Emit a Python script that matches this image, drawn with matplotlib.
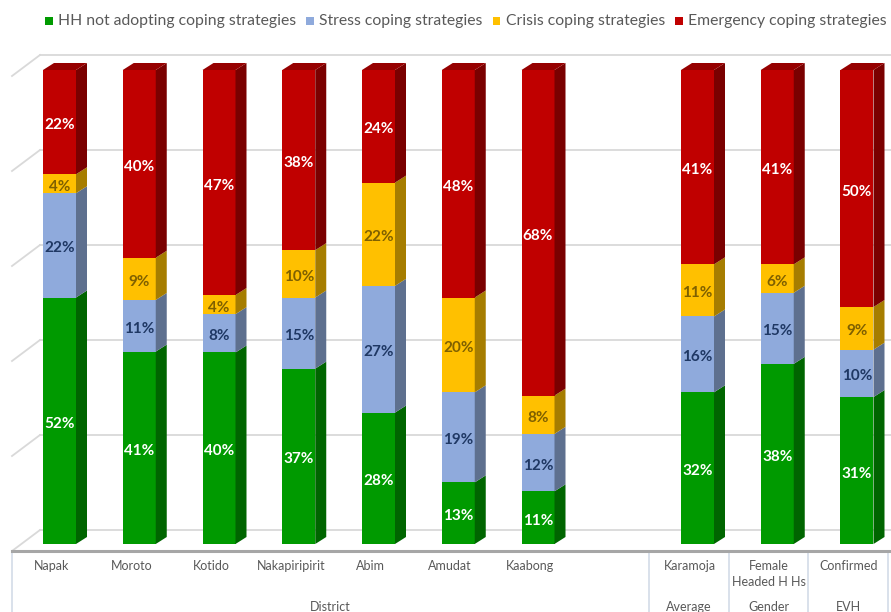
import matplotlib
matplotlib.use('Agg')
import matplotlib.pyplot as plt
from matplotlib.patches import Polygon, Rectangle
from matplotlib import font_manager

# ---------------- data ----------------
categories = ['Napak', 'Moroto', 'Kotido', 'Nakapiripirit', 'Abim', 'Amudat', 'Kaabong',
              'Karamoja', 'Female\nHeaded H Hs', 'Confirmed']
groups = ['District', 'Average', 'Gender', 'EVH']
series_names = ['HH not adopting coping strategies', 'Stress coping strategies',
                'Crisis coping strategies', 'Emergency coping strategies']
hh_not = [52, 41, 40, 37, 28, 13, 11, 32, 38, 31]
stress = [22, 11, 8, 15, 27, 19, 12, 16, 15, 10]
crisis = [4, 9, 4, 10, 22, 20, 8, 11, 6, 9]
emergency = [22, 40, 47, 38, 24, 48, 68, 41, 41, 50]
gridvals = [0, 20, 40, 60, 80, 100]

# ---------------- style ----------------
fam = {f.name for f in font_manager.fontManager.ttflist}
base = 'Lato' if 'Lato' in fam else 'DejaVu Sans'
plt.rcParams['font.family'] = [base, 'DejaVu Sans']

front = ['#009A00', '#8FAADC', '#FFC000', '#C00000']
side = ['#006500', '#5E708F', '#A67D00', '#7A0000']
top_col = '#960000'
lab_col = ['white', '#1F3864', '#7F6000', 'white']

W, H = 891, 612
fig = plt.figure(figsize=(W / 100, H / 100), dpi=100)
ax = fig.add_axes([0, 0, 1, 1])

# pixel <-> data mapping (layout)
X0, XS = 59.5, 79.75     # px of first bar centre, px per category
Y0, YS = 544.0, 4.74     # px of value 0 at bar front, px per percent
def dx(px): return (px - X0) / XS
def dy(py): return (Y0 - py) / YS
ax.set_xlim(dx(0), dx(W))
ax.set_ylim(dy(H), dy(0))
ax.axis('off')
PX, PY = 1 / XS, 1 / YS

# positions: one empty slot between districts and the rest
positions = list(range(7)) + [8, 9, 10]

# ---------------- walls / floor ----------------
grid_c = '#D9D9D9'
for v in gridvals:
    py = 530 - v * 4.75
    ax.plot([dx(12), dx(40)], [dy(py + 21), dy(py)], color=grid_c, lw=1.3, zorder=1)
    ax.plot([dx(40), dx(W)], [dy(py), dy(py)], color=grid_c, lw=1.3, zorder=1)
ax.plot([dx(12), dx(W)], [dy(551), dy(551)], color='#A6A6A6', lw=2.2, zorder=2)

# ---------------- bars ----------------
series = [hh_not, stress, crisis, emergency]
bw = 33 * PX
ddx, ddy = 11 * PX, 7 * PY
totals = [sum(s[i] for s in series) for i in range(len(categories))]
bottoms = [0.0] * len(categories)
for k, s in enumerate(series):
    heights = [s[i] / totals[i] * 100 for i in range(len(s))]
    ax.bar(positions, heights, bottom=bottoms, width=bw, color=front[k],
           edgecolor='none', zorder=3)
    for i, x in enumerate(positions):
        b, h = bottoms[i], heights[i]
        xr = x + bw / 2
        ax.add_patch(Polygon([(xr, b), (xr + ddx, b + ddy), (xr + ddx, b + h + ddy), (xr, b + h)],
                             closed=True, facecolor=side[k], edgecolor='none', zorder=3))
        if k == len(series) - 1:
            t = b + h
            ax.add_patch(Polygon([(x - bw / 2, t), (xr, t), (xr + ddx, t + ddy), (x - bw / 2 + ddx, t + ddy)],
                                 closed=True, facecolor=top_col, edgecolor='none', zorder=3))
        ax.text(x, b + h / 2 - 3 * PY, f'{s[i]}%', ha='center', va='center',
                color=lab_col[k], fontsize=11, fontweight='bold', zorder=5)
    bottoms = [bottoms[i] + heights[i] for i in range(len(s))]

# ---------------- category table ----------------
sep_c = '#D3DCE8'
for px in [12, 649, 729, 808, 888]:
    ax.plot([dx(px), dx(px)], [dy(551), dy(H)], color=sep_c, lw=1.2, zorder=1)
for i, x in enumerate(positions):
    ax.text(x - 0.1, dy(560), categories[i], ha='center', va='top', color='#595959',
            fontsize=9, linespacing=1.35)
group_px = [(12 + 649) / 2, (649 + 729) / 2, (729 + 808) / 2, (808 + 888) / 2]
for g, px in zip(groups, group_px):
    ax.text(dx(px), dy(601), g, ha='center', va='top', color='#595959', fontsize=9)

# ---------------- legend ----------------
fig.canvas.draw()
r = fig.canvas.get_renderer()
xpos = 45
for k, name in enumerate(series_names):
    fig.patches.append(Rectangle((xpos / W, 1 - 25 / H), 8 / W, 8 / H,
                                 transform=fig.transFigure, facecolor=front[k],
                                 edgecolor='none'))
    t = fig.text((xpos + 13) / W, 1 - 20.5 / H, name, ha='left', va='center',
                 color='#595959', fontsize=11.3)
    bb = t.get_window_extent(renderer=r)
    xpos = bb.x1 + 10

fig.savefig('out.png', dpi=100)
